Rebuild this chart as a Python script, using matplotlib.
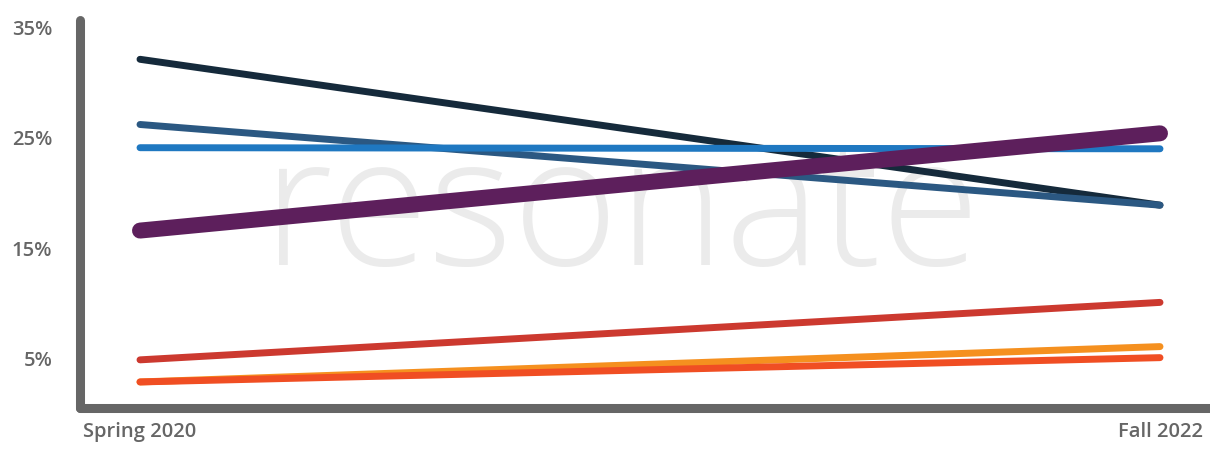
import matplotlib.pyplot as plt

periods = ["Spring 2020", "Fall 2022"]
navy = [32.1, 18.9]
steel = [26.2, 18.9]
blue = [24.1, 24.0]
orange = [2.9, 6.1]
orange_red = [2.9, 5.1]
red = [4.9, 10.1]
purple = [16.6, 25.4]

series = [
    (navy, "#152a3b", 5.0),
    (steel, "#2b5882", 5.0),
    (blue, "#1f78c1", 5.0),
    (red, "#cc392f", 5.0),
    (orange, "#f5901f", 5.0),
    (orange_red, "#f04e23", 5.0),
    (purple, "#5d1f5c", 11.5),
]

yticks = [5, 15, 25, 35]

W, H = 1210, 449
fig = plt.figure(figsize=(W / 100, H / 100), dpi=100)
ax = fig.add_axes([80 / W, (H - 408) / H, 1 - 80 / W, (408 - 20) / H])

# watermark
ax.text(0.472, 13.5, "resonate", fontsize=130,
        family="Open Sans", weight="light", color="#ebebeb",
        ha="center", va="baseline", zorder=0)

xs = [0, 1]
for vals, col, lw in series:
    ax.plot(xs, vals, color=col, linewidth=lw, solid_capstyle="round", zorder=3)

ax.set_xlim(-60 / 1020, (W - 140) / 1020)
ax.set_ylim(6 / 11.05, (414 - 20) / 11.05)

for s in ["top", "right"]:
    ax.spines[s].set_visible(False)
for s in ["left", "bottom"]:
    ax.spines[s].set_linewidth(6.5)
    ax.spines[s].set_color("#666666")
    ax.spines[s].set_capstyle("round")

ax.set_yticks(yticks)
ax.set_yticklabels([f"{v}%" for v in yticks])
ax.set_xticks(xs)
ax.set_xticklabels(periods)
ax.tick_params(length=0, labelsize=14.5, labelcolor="#666666")
ax.tick_params(axis="y", pad=20)
ax.tick_params(axis="x", pad=10)
for lab in ax.get_xticklabels() + ax.get_yticklabels():
    lab.set_family("Open Sans")
    lab.set_weight("semibold")

fig.savefig("out.png", dpi=100)
